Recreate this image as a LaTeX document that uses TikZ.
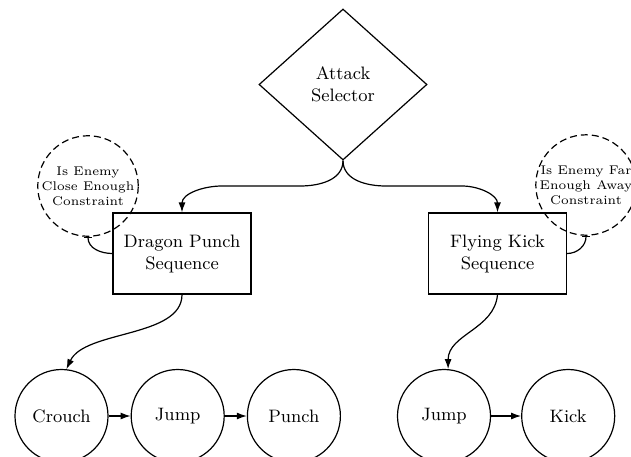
\documentclass[tikz,border=0pt]{standalone}
\usepackage{tikz}
\usetikzlibrary{shapes.geometric, arrows.meta, positioning}
\tikzstyle{arrow} = [
    semithick,
    -{Latex[length=5pt,width=3.5pt]}
]
\tikzstyle{tie} = [
    semithick,
    {Bar[width=4pt]}-
]
\tikzstyle{selector} = [diamond, draw, semithick, minimum width=84pt, minimum height=75.5pt, inner sep=0pt, align=center]
\tikzstyle{seqbox} = [rectangle, draw, semithick, minimum width=69pt, minimum height=40.5pt, align=center]
\tikzstyle{constraint} = [circle, draw, semithick, dash pattern=on 3.5pt off 2pt, minimum size=46pt, inner sep=0pt, align=center, font=\fontsize{6.3}{7.5}\selectfont]
\tikzstyle{action} = [circle, draw, semithick, minimum size=46.5pt, inner sep=0pt]

\begin{document}
\begin{tikzpicture}[x=0.5pt,y=0.5pt,font=\small]
\useasboundingbox (0,0) rectangle (631,-456);

% Selector
\node[selector] (sel) at (343,-84.5) {Attack\\Selector};

% Sequences
\node[seqbox] (dp) at (182,-253.5) {Dragon Punch\\Sequence};
\node[seqbox] (fk) at (497.5,-253.5) {Flying Kick\\Sequence};

% Constraints (dashed)
\node[constraint] (close) at (88,-186) {Is Enemy\\Close Enough\\Constraint};
\node[constraint] (far) at (586,-185) {Is Enemy Far\\Enough Away\\Constraint};

% Actions
\node[action] (crouch) at (61.5,-416) {Crouch};
\node[action, right=11pt of crouch] (jumpa) {Jump};
\node[action, right=11pt of jumpa] (punch) {Punch};
\node[action] (jumpb) at (444,-416) {Jump};
\node[action, right=15pt of jumpb] (kick) {Kick};

% Selector to sequences
\coordinate (lbend) at (300,-186);
\coordinate (lbend2) at (222,-186);
\coordinate (rbend) at (386,-186);
\coordinate (rbend2) at (462,-186);
\draw[arrow] (sel.south) to[out=-90,in=0] (lbend) -- (lbend2) to[out=180,in=90] (dp.north);
\draw[arrow] (sel.south) to[out=-90,in=180] (rbend) -- (rbend2) to[out=0,in=90] (fk.north);

% Constraints on sequences
\draw[tie] (close.south) to[out=-90,in=180] (dp.west);
\draw[tie] (far.south) to[out=-90,in=0] (fk.east);

% Sequences to first action
\draw[arrow] (dp.south) to[out=-90,in=65,looseness=0.8] (crouch.84);
\draw[arrow] (fk.south) to[out=-95,in=90] (jumpb.85);

% Action chains
\draw[arrow] (crouch) -- (jumpa);
\draw[arrow] (jumpa) -- (punch);
\draw[arrow] (jumpb) -- (kick);
\end{tikzpicture}
\end{document}
